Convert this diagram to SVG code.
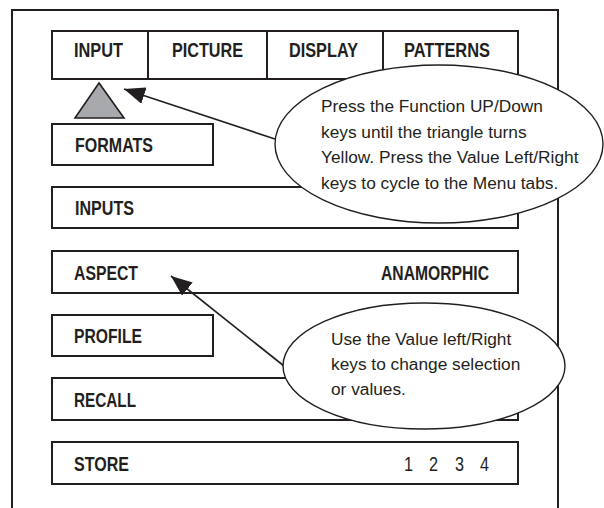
<svg xmlns="http://www.w3.org/2000/svg" width="604" height="508" viewBox="0 0 604 508">
  <style>
    .box { fill: #ffffff; stroke: #231f20; stroke-width: 2; }
    .frame { fill: none; stroke: #231f20; stroke-width: 2; }
    .lbl { font-family: "Liberation Sans", Arial, sans-serif; font-size: 20.5px; font-weight: bold; fill: #231f20; }
    .num { font-family: "Liberation Sans", Arial, sans-serif; font-size: 20px; fill: #231f20; }
    .note { font-family: "Liberation Sans", Arial, sans-serif; font-size: 17.3px; fill: #231f20; }
    .bubble { fill: #ffffff; stroke: #231f20; stroke-width: 1.4; }
    .conn { fill: none; stroke: #231f20; stroke-width: 1.6; }
  </style>
  <defs>
    <marker id="head" viewBox="0 0 21 17" refX="21" refY="8.5" markerWidth="21" markerHeight="17" markerUnits="userSpaceOnUse" orient="auto">
      <path d="M0,0 L21,8.5 L0,17 z" fill="#231f20"/>
    </marker>
  </defs>

  <rect width="604" height="508" fill="#ffffff"/>

  <!-- outer screen frame, open at the bottom -->
  <path class="frame" d="M12,508 L12,10 L558,10 L558,508"/>

  <!-- menu tabs -->
  <g id="tabs">
    <rect class="box" x="52" y="31" width="466" height="48"/>
    <line class="frame" x1="148" y1="31" x2="148" y2="79"/>
    <line class="frame" x1="267" y1="31" x2="267" y2="79"/>
    <line class="frame" x1="383" y1="31" x2="383" y2="79"/>
    <text class="lbl" x="74" y="57" textLength="49" lengthAdjust="spacingAndGlyphs">INPUT</text>
    <text class="lbl" x="172" y="57" textLength="71" lengthAdjust="spacingAndGlyphs">PICTURE</text>
    <text class="lbl" x="289" y="57" textLength="69" lengthAdjust="spacingAndGlyphs">DISPLAY</text>
    <text class="lbl" x="404" y="57" textLength="86" lengthAdjust="spacingAndGlyphs">PATTERNS</text>
  </g>

  <!-- tab selector -->
  <g id="selector">
    <polygon points="99,83 75,118 124,118" fill="#a7a9ac" stroke="#231f20" stroke-width="1.6"/>
  </g>

  <!-- menu rows -->
  <g id="formats">
    <rect class="box" x="52" y="124" width="161" height="41"/>
    <text class="lbl" x="75" y="152" textLength="78" lengthAdjust="spacingAndGlyphs">FORMATS</text>
  </g>
  <g id="inputs">
    <rect class="box" x="52" y="187" width="466" height="41"/>
    <text class="lbl" x="75" y="215" textLength="59" lengthAdjust="spacingAndGlyphs">INPUTS</text>
  </g>
  <g id="aspect">
    <rect class="box" x="52" y="251" width="466" height="42"/>
    <text class="lbl" x="74" y="280" textLength="64" lengthAdjust="spacingAndGlyphs">ASPECT</text>
    <text class="lbl" x="381" y="280" textLength="108" lengthAdjust="spacingAndGlyphs">ANAMORPHIC</text>
  </g>
  <g id="profile">
    <rect class="box" x="52" y="315" width="161" height="41"/>
    <text class="lbl" x="74" y="343" textLength="68" lengthAdjust="spacingAndGlyphs">PROFILE</text>
  </g>
  <g id="recall">
    <rect class="box" x="52" y="378" width="466" height="42"/>
    <text class="lbl" x="74" y="407" textLength="62" lengthAdjust="spacingAndGlyphs">RECALL</text>
  </g>
  <g id="store">
    <rect class="box" x="52" y="442" width="466" height="42"/>
    <text class="lbl" x="74" y="471" textLength="55" lengthAdjust="spacingAndGlyphs">STORE</text>
    <text class="num" x="404" y="471" textLength="9" lengthAdjust="spacingAndGlyphs">1</text>
    <text class="num" x="429" y="471" textLength="9" lengthAdjust="spacingAndGlyphs">2</text>
    <text class="num" x="455" y="471" textLength="9" lengthAdjust="spacingAndGlyphs">3</text>
    <text class="num" x="480" y="471" textLength="9" lengthAdjust="spacingAndGlyphs">4</text>
  </g>

  <!-- pointers from the callouts -->
  <g id="connectors">
    <line class="conn" x1="278" y1="140" x2="124" y2="89" marker-end="url(#head)"/>
    <line class="conn" x1="284" y1="366" x2="171" y2="276" marker-end="url(#head)"/>
  </g>

  <!-- callouts -->
  <g id="callout-tabs">
    <ellipse class="bubble" cx="439" cy="144" rx="164" ry="79"/>
    <text class="note" x="321" y="112">Press the Function UP/Down</text>
    <text class="note" x="321" y="138">keys until the triangle turns</text>
    <text class="note" x="321" y="163">Yellow. Press the Value Left/Right</text>
    <text class="note" x="321" y="189">keys to cycle to the Menu tabs.</text>
  </g>
  <g id="callout-values">
    <ellipse class="bubble" cx="424" cy="366" rx="141" ry="63"/>
    <text class="note" x="331" y="345">Use the Value left/Right</text>
    <text class="note" x="331" y="370">keys to change selection</text>
    <text class="note" x="331" y="395">or values.</text>
  </g>
</svg>
